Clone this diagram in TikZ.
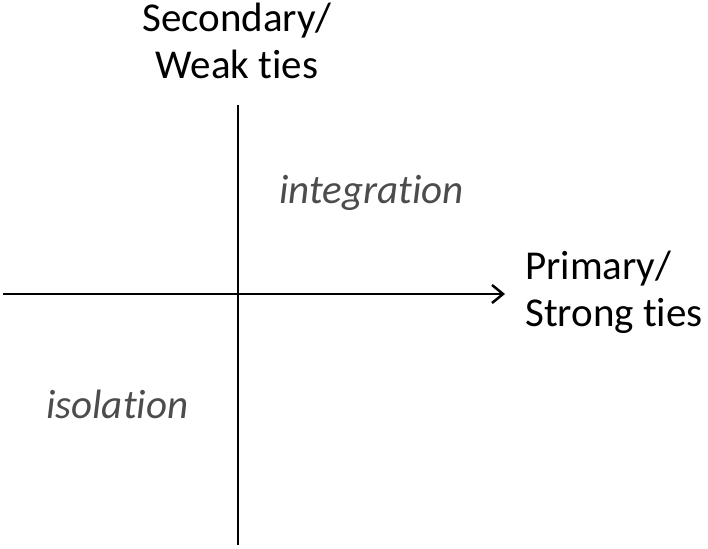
\documentclass[tikz,border=0pt]{standalone}
\usepackage{fontspec}
\setmainfont[Ligatures={NoCommon}]{Carlito}
\usetikzlibrary{arrows.meta}
\tikzset{
  axislabel/.style={font=\fontsize{41}{47}\selectfont, align=left, inner sep=0pt},
  regionlabel/.style={font=\fontsize{41}{47}\selectfont\itshape, text=black!70, inner sep=0pt},
}
\begin{document}
\begin{tikzpicture}[x=1pt,y=-1pt]
  \useasboundingbox (0,0) rectangle (708,548);
  % axes
  \coordinate (ytop) at (238,105);
  \coordinate (ybot) at (238,545);
  \coordinate (xleft) at (3,294);
  \coordinate (xright) at (505,294);
  \draw[line width=2.5pt] (ybot) -- (ytop);
  \draw[line width=2.5pt,-{Straight Barb[length=11pt,width=18pt]}] (xleft) -- (xright);
  % labels
  \node[axislabel, align=center, anchor=north] (sec) at (237,3) {Secondary/\\Weak ties};
  \node[axislabel, anchor=north west] (prim) at (525,251) {Primary/\\Strong ties};
  \node[regionlabel, anchor=base west] (integ) at (279,203) {integration};
  \node[regionlabel, anchor=base west] (iso) at (46,418) {isolation};
\end{tikzpicture}
\end{document}
